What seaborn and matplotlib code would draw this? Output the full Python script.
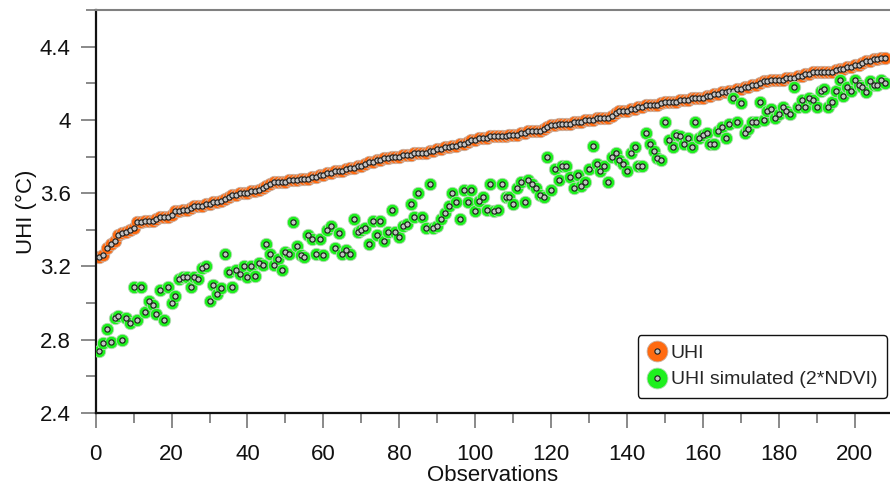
import numpy as np
import pandas as pd
import matplotlib
matplotlib.use("Agg")
import matplotlib.pyplot as plt
from matplotlib.lines import Line2D
from matplotlib.legend_handler import HandlerTuple
from matplotlib.ticker import MultipleLocator, FuncFormatter
import seaborn as sns

# ---- data ----
uhi = [
    3.25, 3.26, 3.30, 3.32, 3.34, 3.37, 3.38, 3.39, 3.40, 3.41,
    3.44, 3.44, 3.45, 3.45, 3.45, 3.46, 3.47, 3.47, 3.47, 3.48,
    3.50, 3.50, 3.51, 3.51, 3.52, 3.53, 3.53, 3.53, 3.54, 3.54,
    3.55, 3.55, 3.56, 3.57, 3.58, 3.59, 3.59, 3.60, 3.60, 3.60,
    3.61, 3.61, 3.62, 3.63, 3.64, 3.65, 3.66, 3.66, 3.66, 3.66,
    3.67, 3.67, 3.67, 3.68, 3.68, 3.68, 3.69, 3.69, 3.70, 3.70,
    3.71, 3.71, 3.72, 3.72, 3.72, 3.73, 3.74, 3.74, 3.75, 3.75,
    3.76, 3.77, 3.77, 3.78, 3.78, 3.79, 3.79, 3.80, 3.80, 3.80,
    3.81, 3.81, 3.81, 3.82, 3.82, 3.82, 3.82, 3.83, 3.83, 3.84,
    3.84, 3.85, 3.85, 3.86, 3.86, 3.87, 3.87, 3.88, 3.89, 3.89,
    3.90, 3.90, 3.90, 3.91, 3.91, 3.91, 3.91, 3.91, 3.92, 3.92,
    3.92, 3.93, 3.93, 3.94, 3.94, 3.94, 3.94, 3.95, 3.96, 3.97,
    3.97, 3.98, 3.98, 3.98, 3.98, 3.99, 3.99, 3.99, 4.00, 4.00,
    4.00, 4.01, 4.01, 4.01, 4.01, 4.02, 4.04, 4.05, 4.05, 4.05,
    4.06, 4.06, 4.07, 4.07, 4.08, 4.08, 4.08, 4.08, 4.09, 4.10,
    4.10, 4.10, 4.10, 4.11, 4.11, 4.11, 4.12, 4.12, 4.12, 4.12,
    4.13, 4.13, 4.14, 4.14, 4.15, 4.15, 4.16, 4.16, 4.17, 4.17,
    4.18, 4.18, 4.19, 4.19, 4.20, 4.21, 4.21, 4.22, 4.22, 4.22,
    4.22, 4.23, 4.23, 4.23, 4.24, 4.24, 4.25, 4.25, 4.26, 4.26,
    4.26, 4.26, 4.26, 4.26, 4.27, 4.28, 4.28, 4.29, 4.29, 4.30,
    4.30, 4.31, 4.32, 4.32, 4.33, 4.33, 4.34, 4.34,
]

uhi_sim = [
    2.74, 2.78, 2.86, 2.79, 2.92, 2.93, 2.80, 2.92, 2.89, 3.09,
    2.91, 3.09, 2.95, 3.01, 2.99, 2.94, 3.07, 2.91, 3.09, 3.00,
    3.04, 3.13, 3.14, 3.14, 3.09, 3.14, 3.13, 3.19, 3.20, 3.01,
    3.10, 3.05, 3.08, 3.27, 3.17, 3.09, 3.18, 3.16, 3.20, 3.14,
    3.20, 3.15, 3.22, 3.21, 3.32, 3.27, 3.21, 3.24, 3.18, 3.28,
    3.27, 3.44, 3.31, 3.26, 3.25, 3.37, 3.35, 3.27, 3.35, 3.26,
    3.40, 3.42, 3.30, 3.38, 3.27, 3.29, 3.27, 3.46, 3.39, 3.40,
    3.41, 3.32, 3.45, 3.37, 3.45, 3.34, 3.39, 3.51, 3.39, 3.36,
    3.42, 3.43, 3.54, 3.47, 3.60, 3.47, 3.41, 3.65, 3.41, 3.42,
    3.46, 3.49, 3.53, 3.60, 3.55, 3.46, 3.62, 3.55, 3.62, 3.50,
    3.56, 3.58, 3.51, 3.65, 3.50, 3.51, 3.65, 3.58, 3.58, 3.54,
    3.63, 3.66, 3.55, 3.67, 3.65, 3.63, 3.59, 3.58, 3.80, 3.62,
    3.73, 3.67, 3.75, 3.75, 3.69, 3.63, 3.70, 3.64, 3.66, 3.73,
    3.86, 3.76, 3.72, 3.75, 3.66, 3.80, 3.82, 3.78, 3.76, 3.72,
    3.82, 3.85, 3.75, 3.75, 3.93, 3.87, 3.83, 3.79, 3.78, 3.99,
    3.89, 3.85, 3.92, 3.91, 3.87, 3.90, 3.85, 3.99, 3.90, 3.92,
    3.93, 3.87, 3.87, 3.94, 3.96, 3.90, 3.98, 4.12, 3.99, 4.09,
    3.93, 3.95, 3.99, 3.99, 4.10, 4.00, 4.05, 4.06, 4.01, 4.03,
    4.07, 4.05, 4.03, 4.18, 4.07, 4.11, 4.07, 4.12, 4.11, 4.07,
    4.16, 4.17, 4.07, 4.10, 4.16, 4.22, 4.13, 4.18, 4.16, 4.22,
    4.19, 4.18, 4.15, 4.21, 4.19, 4.19, 4.22, 4.20,
]

observations = list(range(1, len(uhi) + 1))
labels = ["UHI", "UHI simulated (2*NDVI)"]
y_ticks = [2.4, 2.8, 3.2, 3.6, 4.0, 4.4]

df = pd.DataFrame({"obs": observations, "uhi": uhi, "sim": uhi_sim})

# ---- style ----
sns.set_theme(style="white")
plt.rcParams["font.family"] = ["Liberation Sans", "DejaVu Sans"]

ORANGE = "#ff6a10"
GREEN = "#1ef01e"
INNER = "#c4c4c4"

fig = plt.figure(figsize=(8.9, 4.88), dpi=100)
ax = fig.add_axes([0.1075, 0.1537, 0.8925, 0.8258])

# orange outer circles, then their inner dots
sns.scatterplot(data=df, x="obs", y="uhi", ax=ax, s=80, color=ORANGE,
                edgecolor="#c9b3a6", linewidth=0.6, zorder=2, legend=False)
sns.scatterplot(data=df, x="obs", y="uhi", ax=ax, s=14, color=INNER,
                edgecolor="#1a1a1a", linewidth=0.8, zorder=3, legend=False)
# green outer circles, then inner dots
sns.scatterplot(data=df, x="obs", y="sim", ax=ax, s=80, color=GREEN,
                edgecolor="#b8d8b8", linewidth=0.6, zorder=4, legend=False)
sns.scatterplot(data=df, x="obs", y="sim", ax=ax, s=14, color=INNER,
                edgecolor="#1a1a1a", linewidth=0.8, zorder=5, legend=False)

ax.set_xlim(0, 209.3)
ax.set_ylim(2.4, 4.6)

ax.xaxis.set_major_locator(MultipleLocator(20))
ax.xaxis.set_minor_locator(MultipleLocator(10))
ax.set_yticks(y_ticks)
ax.yaxis.set_minor_locator(MultipleLocator(0.2))
ax.yaxis.set_major_formatter(FuncFormatter(lambda v, p: f"{v:g}"))

ax.tick_params(axis="both", which="major", length=11, width=1.3,
               color="#808080", labelsize=16, labelcolor="#111111",
               direction="out", left=True, bottom=True)
ax.tick_params(axis="both", which="minor", length=7, width=1.3,
               color="#808080", direction="out", left=True, bottom=True)
ax.tick_params(axis="x", which="major", pad=11)
ax.tick_params(axis="y", which="major", pad=7)

for side in ["left", "bottom"]:
    ax.spines[side].set_color("#111111")
    ax.spines[side].set_linewidth(1.6)
ax.spines["top"].set_color("#808080")
ax.spines["top"].set_linewidth(1.5)
ax.spines["right"].set_visible(False)

ax.set_xlabel("Observations", fontsize=16, labelpad=0, color="#111111")
ax.set_ylabel("UHI (°C)", fontsize=16, labelpad=2, color="#111111")

# legend with layered markers
h_uhi = (Line2D([], [], ls="none", marker="o", ms=15, mfc=ORANGE, mec="#c9b3a6", mew=0.6),
         Line2D([], [], ls="none", marker="o", ms=3.8, mfc=INNER, mec="#1a1a1a", mew=0.8))
h_sim = (Line2D([], [], ls="none", marker="o", ms=15, mfc=GREEN, mec="#b8d8b8", mew=0.6),
         Line2D([], [], ls="none", marker="o", ms=3.8, mfc=INNER, mec="#1a1a1a", mew=0.8))
leg = ax.legend([h_uhi, h_sim], labels, handler_map={tuple: HandlerTuple(ndivide=1)},
                loc="lower right", bbox_to_anchor=(0.996, 0.037), borderaxespad=0,
                fontsize=14, frameon=True, fancybox=True, framealpha=1,
                edgecolor="#111111", handlelength=1.0, handletextpad=0.2,
                labelspacing=0.45, borderpad=0.5)
leg.get_frame().set_linewidth(1.0)
leg.set_zorder(10)

fig.savefig("out.png", dpi=100)
